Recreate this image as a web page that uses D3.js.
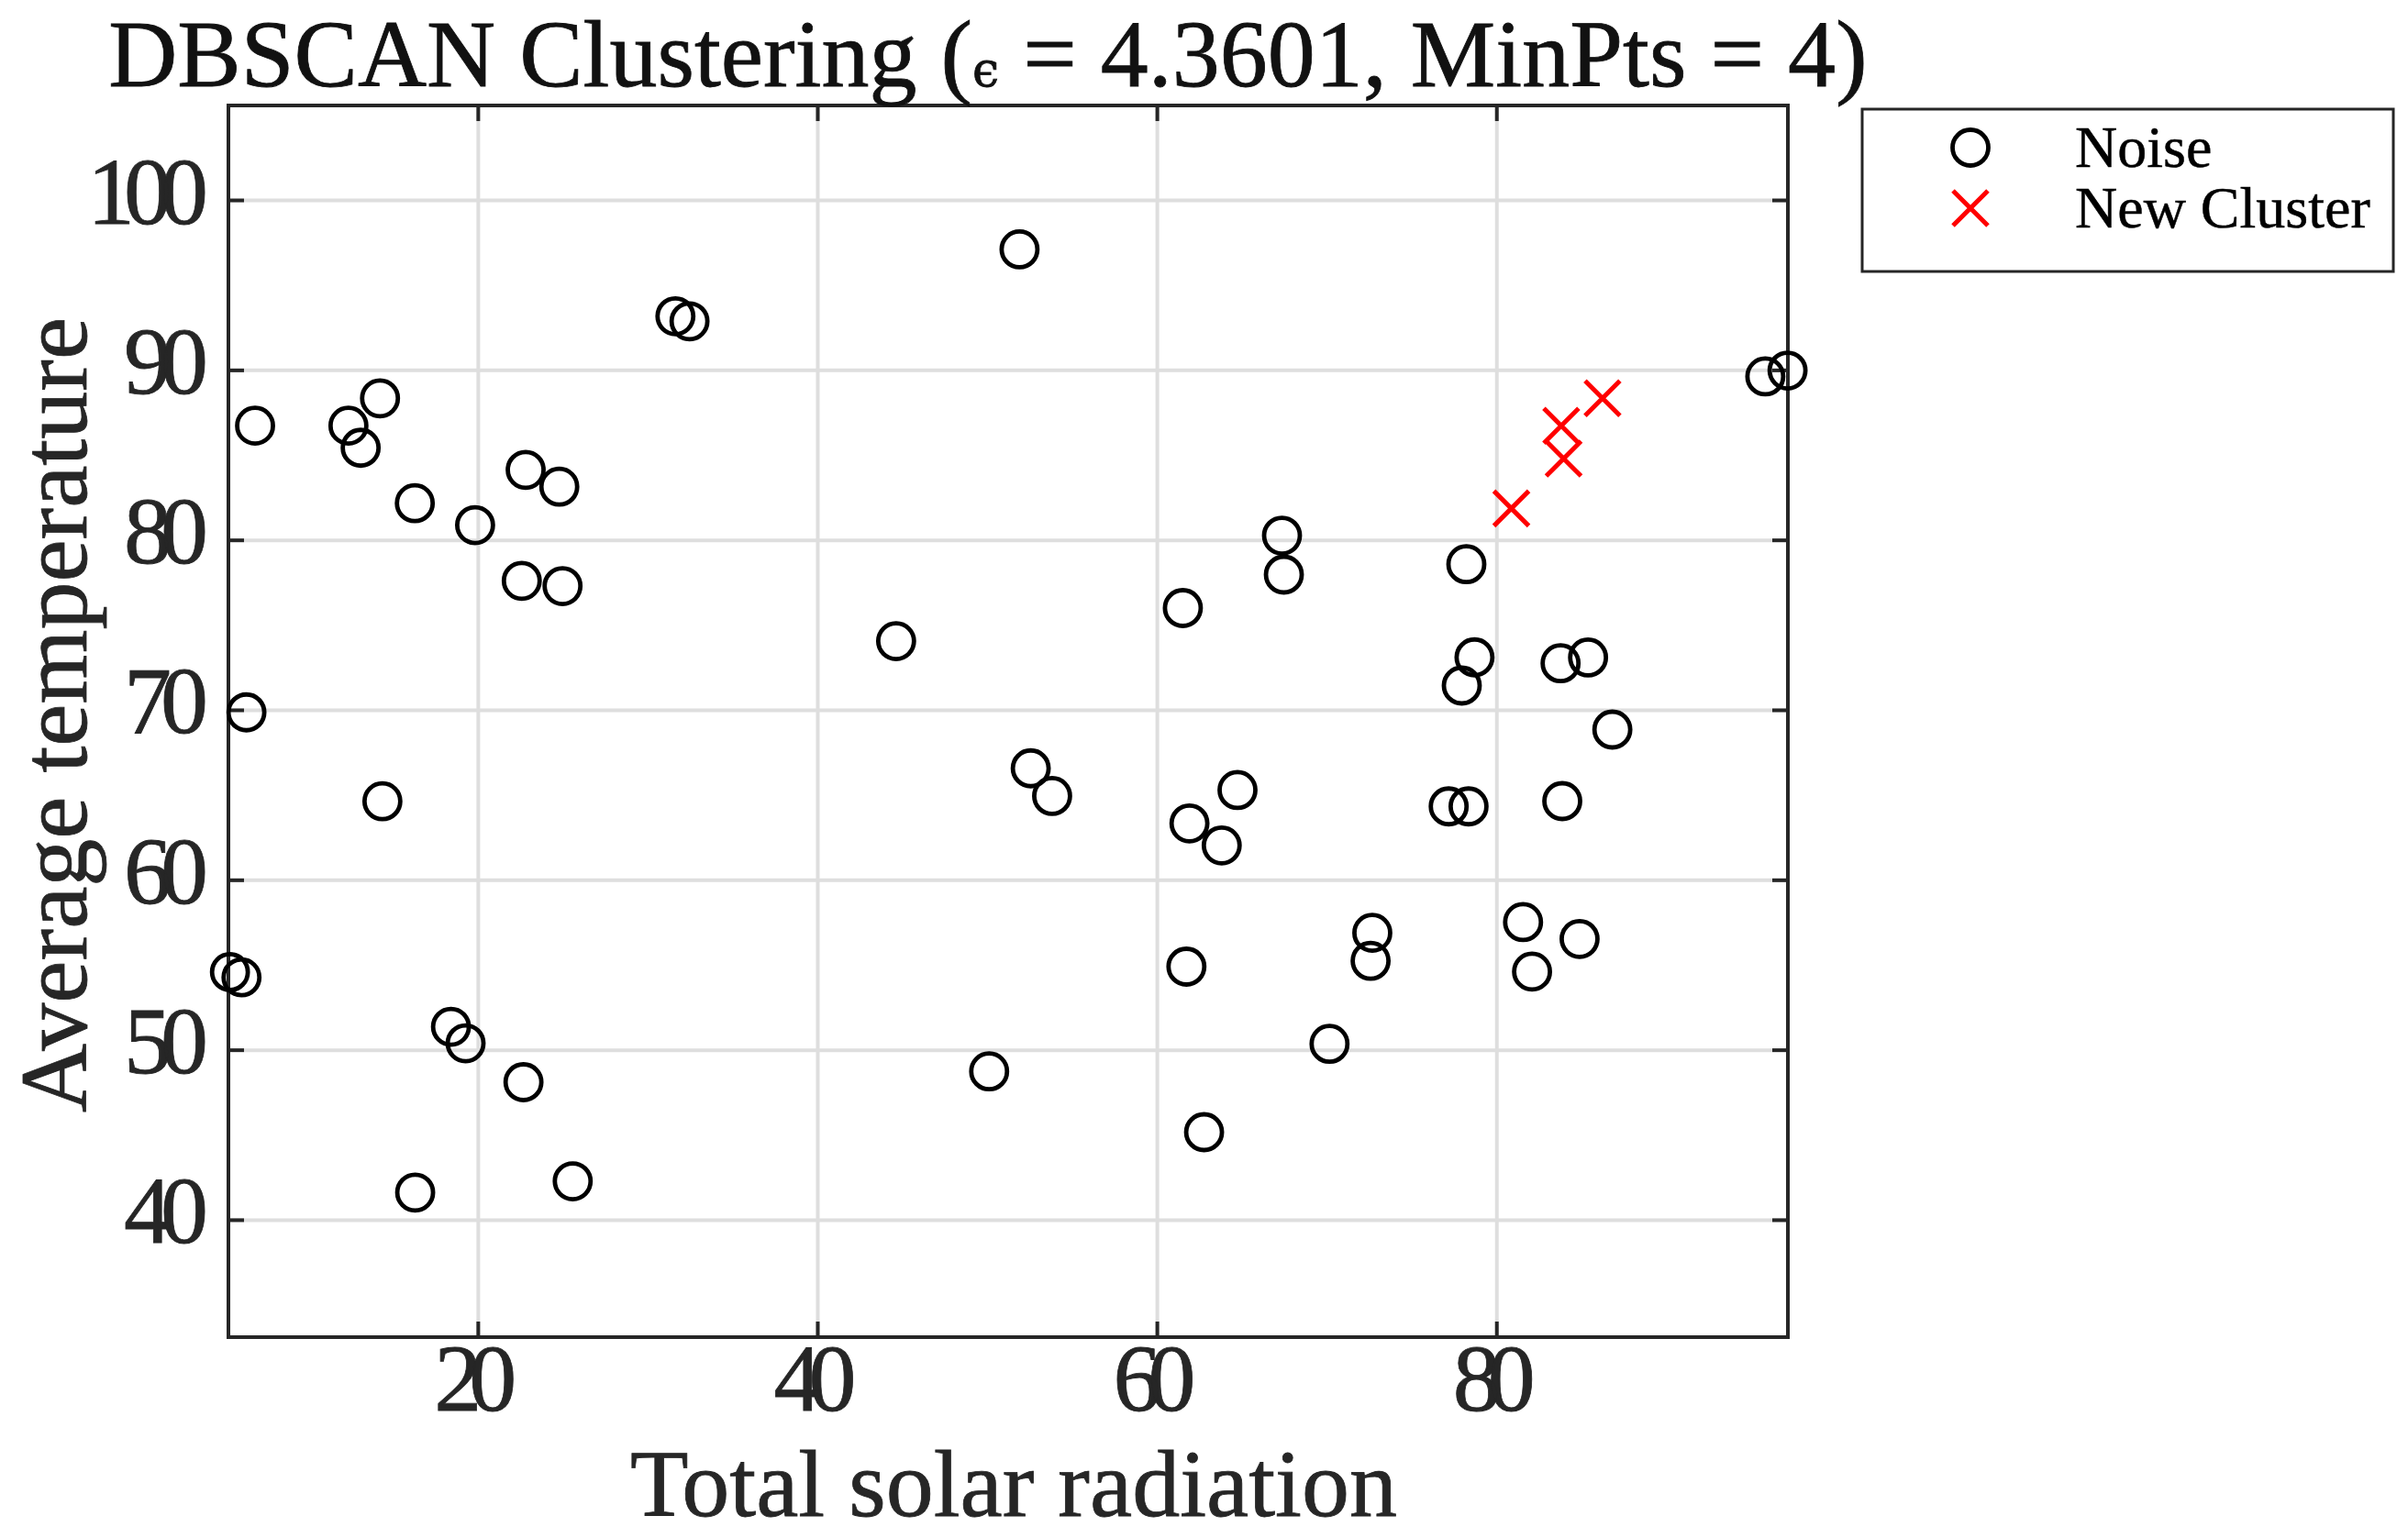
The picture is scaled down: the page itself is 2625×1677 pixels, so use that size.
<!DOCTYPE html>
<html>
<head>
<meta charset="utf-8">
<script src="https://cdn.jsdelivr.net/npm/d3@7"></script>
<style>
body { margin: 0; background: #fff; }
svg text { font-family: "Liberation Serif", "Times New Roman", serif; fill: #262626; stroke: #262626; stroke-width: 0.8px; }
</style>
</head>
<body>
<div id="chart"></div>
<script>
// noise points (Total solar radiation, Average temperature)
var noiseX = [5.40, 6.08, 6.37, 6.88, 12.38, 13.10, 14.24, 14.38, 16.29, 16.31,
              18.42, 19.28, 19.84, 22.82, 22.59, 22.69, 24.80, 24.99, 25.59, 31.64,
              32.47, 44.64, 50.12, 51.91, 52.57, 53.83, 61.53, 61.74, 61.92, 62.78,
              63.82, 64.75, 67.37, 67.48, 70.17, 72.69, 72.59, 77.19, 78.36, 77.96,
              78.23, 78.71, 81.57, 82.10, 83.78, 83.88, 85.40, 84.90, 86.83, 95.84,
              97.15];
var noiseY = [54.57, 54.26, 69.85, 86.72, 86.72, 85.42, 88.33, 64.62, 82.16, 41.60,
              51.35, 50.38, 80.87, 84.12, 77.59, 48.09, 83.13, 77.28, 42.26, 93.16,
              92.86, 74.04, 48.73, 97.09, 66.56, 64.93, 75.99, 54.89, 63.32, 45.15,
              62.02, 65.28, 80.25, 77.96, 50.35, 56.88, 55.23, 64.32, 64.32, 71.43,
              78.57, 73.09, 57.51, 54.60, 72.74, 64.63, 73.08, 56.52, 68.84, 89.62,
              89.96];

// the one cluster found
var clusterX = [86.25, 83.82, 83.96, 80.88];
var clusterY = [88.33, 86.71, 84.78, 81.85];

var xTicks = [20, 40, 60, 80];
var yTicks = [40, 50, 60, 70, 80, 90, 100];
var xDomain = [5.31, 97.17];
var yDomain = [33.09, 105.56];
var legendLabels = ["Noise", "New Cluster"];

var width = 2625;
var height = 1677;
var box = { left: 249, right: 1949, top: 115, bottom: 1458 };
var axisColor = "#262626";

var svg = d3.select("#chart").append("svg")
    .attr("width", width)
    .attr("height", height);

var x = d3.scaleLinear().domain(xDomain).range([box.left, box.right]);
var y = d3.scaleLinear().domain(yDomain).range([box.bottom, box.top]);

var plotH = box.bottom - box.top;
var plotW = box.right - box.left;

// grid
svg.append("g")
    .attr("transform", "translate(0," + box.bottom + ")")
    .call(d3.axisBottom(x).tickValues(xTicks).tickSize(-plotH).tickFormat(""));
svg.append("g")
    .attr("transform", "translate(" + box.left + ",0)")
    .call(d3.axisLeft(y).tickValues(yTicks).tickSize(-plotW).tickFormat(""));
svg.selectAll("g").selectAll(".domain").remove();
svg.selectAll("g .tick line").attr("stroke", "#dedede").attr("stroke-width", 4);

// box outline with inward ticks on all four sides
function styleAxis(g) {
    g.select(".domain").remove();
    g.selectAll(".tick line").attr("stroke", axisColor).attr("stroke-width", 4);
}
var tickLen = 17;

var xAxisB = svg.append("g")
    .attr("transform", "translate(0," + box.bottom + ")")
    .call(d3.axisBottom(x).tickValues(xTicks).tickSize(-tickLen).tickFormat(d3.format("d")))
    .call(styleAxis);
xAxisB.selectAll(".tick text")
    .attr("y", 80).attr("dy", null)
    .attr("font-size", 104)
    .attr("letter-spacing", "-14px")
    .attr("dx", -10);

svg.append("g")
    .attr("transform", "translate(0," + box.top + ")")
    .call(d3.axisTop(x).tickValues(xTicks).tickSize(-tickLen).tickFormat(""))
    .call(styleAxis);

var yAxisL = svg.append("g")
    .attr("transform", "translate(" + box.left + ",0)")
    .call(d3.axisLeft(y).tickValues(yTicks).tickSize(-tickLen).tickFormat(d3.format("d")))
    .call(styleAxis);
yAxisL.selectAll(".tick text")
    .attr("x", -34).attr("dy", 25)
    .attr("font-size", 104)
    .attr("letter-spacing", "-12px");

svg.append("g")
    .attr("transform", "translate(" + box.right + ",0)")
    .call(d3.axisRight(y).tickValues(yTicks).tickSize(-tickLen).tickFormat(""))
    .call(styleAxis);

svg.append("rect")
    .attr("x", box.left).attr("y", box.top)
    .attr("width", plotW).attr("height", plotH)
    .attr("fill", "none")
    .attr("stroke", axisColor)
    .attr("stroke-width", 4);

// noise points
svg.append("g").selectAll("circle")
    .data(d3.range(noiseX.length))
    .enter()
    .append("circle")
    .attr("cx", function(i) { return x(noiseX[i]); })
    .attr("cy", function(i) { return y(noiseY[i]); })
    .attr("r", 19.5)
    .attr("fill", "none")
    .attr("stroke", "#000")
    .attr("stroke-width", 4.8);

// cluster points
var crossPath = function(cx, cy, s) {
    return "M" + (cx - s) + "," + (cy - s) + "L" + (cx + s) + "," + (cy + s) +
           "M" + (cx - s) + "," + (cy + s) + "L" + (cx + s) + "," + (cy - s);
};
svg.append("g").selectAll("path")
    .data(d3.range(clusterX.length))
    .enter()
    .append("path")
    .attr("d", function(i) { return crossPath(x(clusterX[i]), y(clusterY[i]), 19); })
    .attr("stroke", "#ff0000")
    .attr("stroke-width", 5)
    .attr("fill", "none");

// title
var title = svg.append("text")
    .attr("x", 1077)
    .attr("y", 94)
    .attr("text-anchor", "middle")
    .attr("font-size", 104)
    .style("fill", "#111")
    .style("stroke", "#111");
title.append("tspan").text("DBSCAN Clustering (");
title.append("tspan").attr("font-size", 52).attr("font-family", "DejaVu Serif").text("\u03F5");
title.append("tspan").text(" = 4.3601, MinPts = 4)");

// axis labels
svg.append("text")
    .attr("x", (box.left + box.right) / 2 + 6)
    .attr("y", 1653)
    .attr("text-anchor", "middle")
    .attr("font-size", 104)
    .text("Total solar radiation");

svg.append("text")
    .attr("transform", "translate(94," + ((box.top + box.bottom) / 2 - 7) + ") rotate(-90)")
    .attr("text-anchor", "middle")
    .attr("font-size", 104)
    .text("Average temperature");

// legend
var legend = svg.append("g");
legend.append("rect")
    .attr("x", 2030).attr("y", 119)
    .attr("width", 579).attr("height", 177)
    .attr("fill", "#fff")
    .attr("stroke", axisColor)
    .attr("stroke-width", 3);
legend.append("circle")
    .attr("cx", 2148).attr("cy", 161).attr("r", 19.5)
    .attr("fill", "none").attr("stroke", "#000").attr("stroke-width", 4.8);
legend.append("path")
    .attr("d", crossPath(2148, 227, 19))
    .attr("stroke", "#ff0000").attr("stroke-width", 5).attr("fill", "none");
legend.selectAll("text.lab")
    .data(legendLabels)
    .enter()
    .append("text")
    .attr("class", "lab")
    .attr("x", 2262)
    .attr("y", function(d, i) { return 182 + i * 66; })
    .attr("font-size", 64)
    .style("fill", "#000")
    .style("stroke", "#000")
    .style("stroke-width", "0.5px")
    .text(function(d) { return d; });
</script>
</body>
</html>
